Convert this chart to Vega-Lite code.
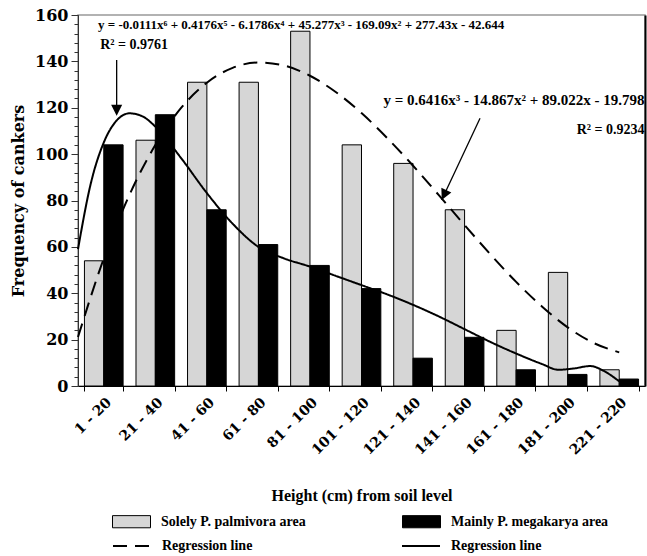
{
  "$schema": "https://vega.github.io/schema/vega-lite/v6.json",
  "width": 567,
  "height": 371,
  "autosize": {"type": "none"},
  "padding": {"left": 78, "top": 15, "right": 2, "bottom": 170},
  "background": "white",
  "config": {"view": {"stroke": "#999", "strokeWidth": 1.5}, "font": "Liberation Serif"},
  "datasets": {
    "bars": [
      {"height": "1 - 20", "series": "Solely P. palmivora area", "count": 54},
      {"height": "1 - 20", "series": "Mainly P. megakarya area", "count": 104},
      {"height": "21 - 40", "series": "Solely P. palmivora area", "count": 106},
      {"height": "21 - 40", "series": "Mainly P. megakarya area", "count": 117},
      {"height": "41 - 60", "series": "Solely P. palmivora area", "count": 131},
      {"height": "41 - 60", "series": "Mainly P. megakarya area", "count": 76},
      {"height": "61 - 80", "series": "Solely P. palmivora area", "count": 131},
      {"height": "61 - 80", "series": "Mainly P. megakarya area", "count": 61},
      {"height": "81 - 100", "series": "Solely P. palmivora area", "count": 153},
      {"height": "81 - 100", "series": "Mainly P. megakarya area", "count": 52},
      {"height": "101 - 120", "series": "Solely P. palmivora area", "count": 104},
      {"height": "101 - 120", "series": "Mainly P. megakarya area", "count": 42},
      {"height": "121 - 140", "series": "Solely P. palmivora area", "count": 96},
      {"height": "121 - 140", "series": "Mainly P. megakarya area", "count": 12},
      {"height": "141 - 160", "series": "Solely P. palmivora area", "count": 76},
      {"height": "141 - 160", "series": "Mainly P. megakarya area", "count": 21},
      {"height": "161 - 180", "series": "Solely P. palmivora area", "count": 24},
      {"height": "161 - 180", "series": "Mainly P. megakarya area", "count": 7},
      {"height": "181 - 200", "series": "Solely P. palmivora area", "count": 49},
      {"height": "181 - 200", "series": "Mainly P. megakarya area", "count": 5},
      {"height": "221 - 220", "series": "Solely P. palmivora area", "count": 7},
      {"height": "221 - 220", "series": "Mainly P. megakarya area", "count": 3}
    ],
    "curves": [
      {"fit": "palmivora", "x": 0.5, "y": 21.1},
      {"fit": "palmivora", "x": 1.0, "y": 55.0},
      {"fit": "palmivora", "x": 1.5, "y": 82.5},
      {"fit": "palmivora", "x": 2.0, "y": 103.9},
      {"fit": "palmivora", "x": 2.5, "y": 119.9},
      {"fit": "palmivora", "x": 3.0, "y": 130.8},
      {"fit": "palmivora", "x": 3.5, "y": 137.2},
      {"fit": "palmivora", "x": 4.0, "y": 139.5},
      {"fit": "palmivora", "x": 4.5, "y": 138.2},
      {"fit": "palmivora", "x": 5.0, "y": 133.8},
      {"fit": "palmivora", "x": 5.5, "y": 126.8},
      {"fit": "palmivora", "x": 6.0, "y": 117.7},
      {"fit": "palmivora", "x": 6.5, "y": 106.9},
      {"fit": "palmivora", "x": 7.0, "y": 95.0},
      {"fit": "palmivora", "x": 7.5, "y": 82.3},
      {"fit": "palmivora", "x": 8.0, "y": 69.4},
      {"fit": "palmivora", "x": 8.5, "y": 56.8},
      {"fit": "palmivora", "x": 9.0, "y": 44.9},
      {"fit": "palmivora", "x": 9.5, "y": 34.3},
      {"fit": "palmivora", "x": 10.0, "y": 25.3},
      {"fit": "palmivora", "x": 10.5, "y": 18.6},
      {"fit": "palmivora", "x": 11.0, "y": 14.5},
      {"fit": "megakarya", "x": 0.5, "y": 59},
      {"fit": "megakarya", "x": 0.75, "y": 87.5},
      {"fit": "megakarya", "x": 1.0, "y": 105},
      {"fit": "megakarya", "x": 1.25, "y": 114.5},
      {"fit": "megakarya", "x": 1.5, "y": 117.6},
      {"fit": "megakarya", "x": 1.75, "y": 116.3},
      {"fit": "megakarya", "x": 2.0, "y": 111.9},
      {"fit": "megakarya", "x": 2.5, "y": 98.3},
      {"fit": "megakarya", "x": 3.0, "y": 83.2},
      {"fit": "megakarya", "x": 3.5, "y": 70},
      {"fit": "megakarya", "x": 4.0, "y": 60},
      {"fit": "megakarya", "x": 4.5, "y": 55},
      {"fit": "megakarya", "x": 5.0, "y": 51.5},
      {"fit": "megakarya", "x": 5.5, "y": 47.5},
      {"fit": "megakarya", "x": 6.0, "y": 43.5},
      {"fit": "megakarya", "x": 6.5, "y": 39.5},
      {"fit": "megakarya", "x": 7.0, "y": 35},
      {"fit": "megakarya", "x": 7.5, "y": 30},
      {"fit": "megakarya", "x": 8.0, "y": 24.5},
      {"fit": "megakarya", "x": 8.5, "y": 19},
      {"fit": "megakarya", "x": 9.0, "y": 14},
      {"fit": "megakarya", "x": 9.5, "y": 9.5},
      {"fit": "megakarya", "x": 9.82, "y": 7},
      {"fit": "megakarya", "x": 10.1, "y": 7.5},
      {"fit": "megakarya", "x": 10.44, "y": 8.6},
      {"fit": "megakarya", "x": 10.7, "y": 6.5},
      {"fit": "megakarya", "x": 11.0, "y": 2}
    ],
    "eq1": [
      {"x": 0.888, "y": 155.7, "label": "y = -0.0111x⁶ + 0.4176x⁵ - 6.1786x⁴ + 45.277x³ - 169.09x² + 277.43x - 42.644"}
    ],
    "eq2": [
      {"x": 11.49, "y": 123.4, "label": "y = 0.6416x³ - 14.867x² + 89.022x - 19.798"}
    ],
    "r2": [
      {"x": 2.246, "y": 147.1, "label": "R² = 0.9761"},
      {"x": 11.49, "y": 110.4, "label": "R² = 0.9234"}
    ],
    "arrows": [
      {"x0": 1.25, "y0": 140.6, "x1": 1.25, "y1": 118},
      {"x0": 8.30, "y0": 115.5, "x1": 7.556, "y1": 80.2}
    ]
  },
  "layer": [
    {
      "data": {"name": "bars"},
      "mark": {"type": "bar", "stroke": "black", "strokeWidth": 1},
      "encoding": {
        "x": {
          "field": "height", "type": "nominal", "sort": null,
          "scale": {"paddingInner": 0.25, "paddingOuter": 0.125},
          "axis": {
            "title": "Height (cm) from soil level",
            "titleFont": "Liberation Serif", "titleFontWeight": "bold", "titleFontSize": 16, "titleColor": "black", "titlePadding": 30,
            "labelAngle": -45, "labelFont": "DejaVu Serif", "labelFontWeight": "bold", "labelFontSize": 14, "labelColor": "black", "labelPadding": 4,
            "tickBand": "extent", "tickSize": 5, "tickColor": "black", "domainColor": "black", "grid": false
          }
        },
        "xOffset": {"field": "series", "type": "nominal", "scale": {"domain": ["Solely P. palmivora area", "Mainly P. megakarya area"]}},
        "y": {
          "field": "count", "type": "quantitative",
          "scale": {"domain": [0, 160], "nice": false},
          "axis": {
            "values": [0, 20, 40, 60, 80, 100, 120, 140, 160],
            "title": "Frequency of cankers",
            "titleFont": "DejaVu Serif", "titleFontWeight": "bold", "titleFontSize": 16, "titleColor": "black", "titlePadding": 8,
            "labelFont": "DejaVu Serif", "labelFontWeight": "bold", "labelFontSize": 16, "labelColor": "black", "labelPadding": 3,
            "tickSize": 7, "tickColor": "#333", "domainColor": "#333", "grid": false
          }
        },
        "fill": {
          "field": "series", "type": "nominal",
          "scale": {
            "domain": ["Solely P. palmivora area", "Mainly P. megakarya area"],
            "range": ["#d6d6d6", "#000000"]
          },
          "legend": {
            "orient": "none", "legendX": 34, "legendY": 487, "direction": "horizontal", "columns": 2, "title": null,
            "labelFont": "Liberation Serif", "labelFontWeight": "bold", "labelFontSize": 14, "labelColor": "black", "labelLimit": 300,
            "columnPadding": 94, "symbolSize": 1444, "labelOffset": 10,
            "symbolType": "M-1,-0.32H1V0.32H-1Z", "symbolStrokeColor": "black", "symbolStrokeWidth": 1, "symbolOpacity": 1
          }
        }
      }
    },
    {
      "data": {"name": "curves"},
      "mark": {"type": "line", "interpolate": "monotone", "color": "black", "strokeWidth": 2},
      "encoding": {
        "x": {"field": "x", "type": "quantitative", "scale": {"domain": [0.5, 11.5], "nice": false, "zero": false}, "axis": null},
        "y": {
          "field": "y", "type": "quantitative", "scale": {"domain": [0, 160], "nice": false},
          "axis": {"orient": "left", "values": [0,4,8,12,16,20,24,28,32,36,40,44,48,52,56,60,64,68,72,76,80,84,88,92,96,100,104,108,112,116,120,124,128,132,136,140,144,148,152,156,160], "labels": false, "domain": false, "title": null, "tickSize": 4, "tickColor": "#333", "grid": false}
        },
        "strokeDash": {
          "field": "fit", "type": "nominal",
          "scale": {"domain": ["palmivora", "megakarya"], "range": [[14, 8], [1, 0]]},
          "legend": {
            "orient": "none", "legendX": 34, "legendY": 511, "direction": "horizontal", "columns": 2, "title": null,
            "labelFont": "Liberation Serif", "labelFontWeight": "bold", "labelFontSize": 14, "labelColor": "black",
            "labelExpr": "'Regression line'",
            "columnPadding": 145, "symbolSize": 1444, "labelOffset": 10,
            "symbolType": "stroke", "symbolStrokeColor": "black", "symbolStrokeWidth": 2
          }
        }
      }
    },
    {
      "data": {"name": "eq1"},
      "mark": {"type": "text", "align": "left", "baseline": "middle", "font": "Liberation Serif", "fontWeight": "bold", "fontSize": 13, "color": "black"},
      "encoding": {
        "x": {"field": "x", "type": "quantitative", "scale": {"domain": [0.5, 11.5], "nice": false, "zero": false}, "axis": null},
        "y": {"field": "y", "type": "quantitative", "scale": {"domain": [0, 160], "nice": false},
          "axis": {"orient": "right", "labels": false, "ticks": false, "title": null, "grid": false, "domainColor": "black", "domainWidth": 2}},
        "text": {"field": "label"}
      }
    },
    {
      "data": {"name": "eq2"},
      "mark": {"type": "text", "align": "right", "baseline": "middle", "font": "Liberation Serif", "fontWeight": "bold", "fontSize": 15, "color": "black"},
      "encoding": {
        "x": {"field": "x", "type": "quantitative", "scale": {"domain": [0.5, 11.5], "nice": false, "zero": false}, "axis": null},
        "y": {"field": "y", "type": "quantitative", "scale": {"domain": [0, 160], "nice": false}, "axis": null},
        "text": {"field": "label"}
      }
    },
    {
      "data": {"name": "r2"},
      "mark": {"type": "text", "align": "right", "baseline": "middle", "font": "Liberation Serif", "fontWeight": "bold", "fontSize": 14, "color": "black"},
      "encoding": {
        "x": {"field": "x", "type": "quantitative", "scale": {"domain": [0.5, 11.5], "nice": false, "zero": false}, "axis": null},
        "y": {"field": "y", "type": "quantitative", "scale": {"domain": [0, 160], "nice": false}, "axis": null},
        "text": {"field": "label"}
      }
    },
    {
      "data": {"name": "arrows"},
      "mark": {"type": "rule", "color": "black", "strokeWidth": 1.3},
      "encoding": {
        "x": {"field": "x0", "type": "quantitative", "scale": {"domain": [0.5, 11.5], "nice": false, "zero": false}, "axis": null},
        "y": {"field": "y0", "type": "quantitative", "scale": {"domain": [0, 160], "nice": false}, "axis": null},
        "x2": {"field": "x1"},
        "y2": {"field": "y1"}
      }
    },
    {
      "data": {"values": [{"x": 1.25, "y": 116.5}]},
      "mark": {"type": "point", "shape": "M0,0L-1,-2L1,-2Z", "size": 121, "filled": true, "color": "black", "opacity": 1},
      "encoding": {
        "x": {"field": "x", "type": "quantitative", "scale": {"domain": [0.5, 11.5], "nice": false, "zero": false}, "axis": null},
        "y": {"field": "y", "type": "quantitative", "scale": {"domain": [0, 160], "nice": false}, "axis": null}
      }
    },
    {
      "data": {"values": [{"x": 7.556, "y": 80.2}]},
      "mark": {"type": "point", "shape": "M0,0L-1,-2L1,-2Z", "size": 121, "filled": true, "color": "black", "opacity": 1, "angle": 25},
      "encoding": {
        "x": {"field": "x", "type": "quantitative", "scale": {"domain": [0.5, 11.5], "nice": false, "zero": false}, "axis": null},
        "y": {"field": "y", "type": "quantitative", "scale": {"domain": [0, 160], "nice": false}, "axis": null}
      }
    }
  ],
  "resolve": {"scale": {"x": "independent"}, "axis": {"x": "independent", "y": "independent"}}
}
